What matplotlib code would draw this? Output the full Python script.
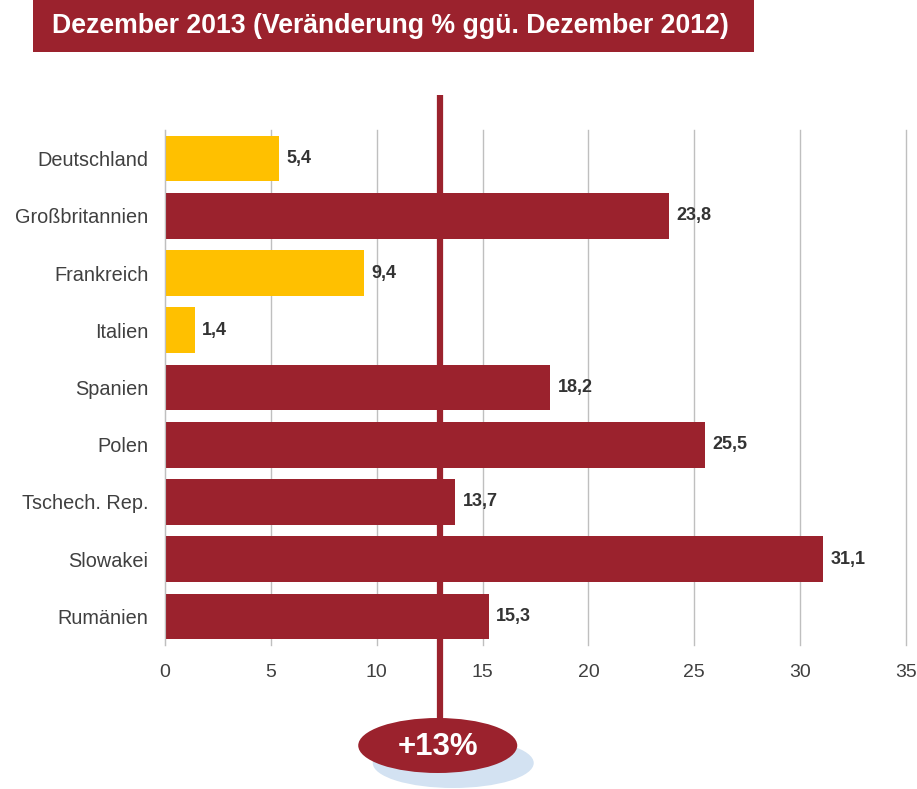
import matplotlib
matplotlib.use("Agg")
import matplotlib.pyplot as plt
from matplotlib.patches import Ellipse, Rectangle
import matplotlib.transforms as mtransforms

plt.rcParams['font.family'] = ['Liberation Sans', 'DejaVu Sans']

categories = ["Deutschland", "Großbritannien", "Frankreich", "Italien", "Spanien",
              "Polen", "Tschech. Rep.", "Slowakei", "Rumänien"]
values = [5.4, 23.8, 9.4, 1.4, 18.2, 25.5, 13.7, 31.1, 15.3]
highlight = [True, False, True, True, False, False, False, False, False]
avg_value = 13
avg_label = "+13%"
title = "Dezember 2013 (Veränderung % ggü. Dezember 2012)"
xticks = [0, 5, 10, 15, 20, 25, 30, 35]

RED = "#9B222D"
YELLOW = "#FFC000"
BLUE = "#D3E2F2"

W, H = 917, 789
fig = plt.figure(figsize=(W / 100, H / 100), dpi=100)
ax = fig.add_axes([165 / W, 1 - 645 / H, (906 - 165) / W, (645 - 130) / H])

ypos = list(range(len(categories)))
colors = [YELLOW if h else RED for h in highlight]
ax.barh(ypos, values, height=0.8, color=colors, zorder=2)
ax.set_ylim(len(categories) - 0.5, -0.5)
ax.set_xlim(0, 35)
ax.set_yticks(ypos)
ax.set_yticklabels(categories, fontsize=14.3, color="#404040")
ax.set_xticks(xticks)
ax.set_xticklabels([str(t) for t in xticks], fontsize=14, color="#404040")
ax.tick_params(axis='both', length=0)
ax.tick_params(axis='x', pad=14)
ax.tick_params(axis='y', pad=12)
ax.grid(axis='x', color="#BFBFBF", linewidth=1, zorder=0)
for gl in ax.get_xgridlines():
    gl.set_clip_on(False)
for s in ['top', 'right', 'bottom']:
    ax.spines[s].set_visible(False)
ax.spines['left'].set_color("#BFBFBF")
ax.spines['left'].set_zorder(3)

for y, v in zip(ypos, values):
    ax.text(v + 0.35, y, f"{v:.1f}".replace(".", ","), va='center', ha='left',
            fontsize=13, fontweight='bold', color="#333333")

# average line
trans = mtransforms.blended_transform_factory(ax.transData, ax.transAxes)
ax.plot([avg_value, avg_value], [(645 - 95) / 515, (645 - 725) / 515], color=RED,
        linewidth=4.5, transform=trans, clip_on=False, zorder=4, solid_capstyle='butt')

pxd = (906 - 165) / 35.0
# shadow ellipse
ax.add_patch(Ellipse((avg_value + (453 - 440) / pxd, (645 - 763) / 515), 161 / pxd, 50 / 515,
                     transform=trans, facecolor=BLUE, edgecolor='none', clip_on=False, zorder=4))
ax.add_patch(Ellipse((avg_value + (437.5 - 440) / pxd, (645 - 745.5) / 515), 159 / pxd, 55 / 515,
                     transform=trans, facecolor=RED, edgecolor='none', clip_on=False, zorder=5))
ax.text(avg_value + (437.5 - 440) / pxd, (645 - 747) / 515, avg_label, transform=trans,
        ha='center', va='center', fontsize=22.5, fontweight='bold', color='white', zorder=6)

# title box
fig.patches.append(Rectangle((33 / W, 1 - 52 / H), (754 - 33) / W, 52 / H,
                             transform=fig.transFigure, facecolor=RED, edgecolor='none', zorder=0))
fig.text(52 / W, 1 - 26 / H, title, ha='left', va='center', fontsize=19.2,
         fontweight='bold', color='white')

fig.savefig("out.png", dpi=100)
